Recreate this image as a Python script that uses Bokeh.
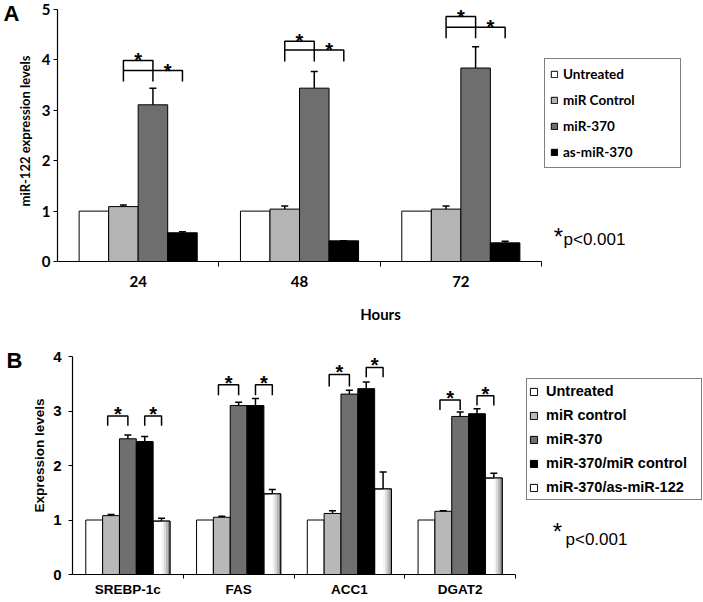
from bokeh.plotting import figure
from bokeh.models import (Range1d, FixedTicker, Legend, LegendItem, Whisker,
                          TeeHead, ColumnDataSource, Label, LinearAxis)
from bokeh.layouts import column
from bokeh.embed import file_html
from bokeh.resources import INLINE
from bokeh.core.properties import value

# ---------------- Panel A data ----------------
hours = ["24", "48", "72"]
a_series = ["Untreated", "miR Control", "miR-370", "as-miR-370"]
a_untreated = [1.0, 1.0, 1.0]
a_untreated_err = [0.0, 0.0, 0.0]
a_mir_control = [1.09, 1.04, 1.04]
a_mir_control_err = [0.03, 0.06, 0.06]
a_mir370 = [3.11, 3.44, 3.84]
a_mir370_err = [0.33, 0.33, 0.42]
a_as_mir370 = [0.57, 0.41, 0.37]
a_as_mir370_err = [0.02, 0.0, 0.03]
a_bracket_top = [3.99, 4.37, 4.86]
a_bracket_mid = [3.79, 4.20, 4.65]
a_bracket_base = [3.57, 3.97, 4.43]

# ---------------- Panel B data ----------------
genes = ["SREBP-1c", "FAS", "ACC1", "DGAT2"]
b_series = ["Untreated", "miR control", "miR-370", "miR-370/miR control", "miR-370/as-miR-122"]
b_untreated = [1.0, 1.0, 1.0, 1.0]
b_untreated_err = [0.0, 0.0, 0.0, 0.0]
b_mir_control = [1.08, 1.05, 1.12, 1.16]
b_mir_control_err = [0.02, 0.02, 0.05, 0.01]
b_mir370 = [2.49, 3.10, 3.31, 2.90]
b_mir370_err = [0.07, 0.06, 0.07, 0.08]
b_mir370_ctrl = [2.44, 3.10, 3.41, 2.95]
b_mir370_ctrl_err = [0.09, 0.13, 0.12, 0.09]
b_mir370_as122 = [0.98, 1.48, 1.57, 1.77]
b_mir370_as122_err = [0.05, 0.08, 0.31, 0.09]
b_bracket1_top = [2.91, 3.48, 3.67, 3.20]
b_bracket1_base = [2.73, 3.29, 3.45, 3.02]
b_bracket2_top = [2.91, 3.48, 3.80, 3.28]
b_bracket2_base = [2.73, 3.29, 3.62, 3.10]

FONT_A = "Lato"
FONT_B = "Liberation Sans"


def style_common(p):
    p.grid.visible = False
    p.outline_line_color = None
    p.background_fill_color = "white"
    p.border_fill_color = "white"
    p.frame_align = False


def add_whisker(p, xs, vals, errs):
    src = ColumnDataSource(dict(base=xs, lower=vals,
                                upper=[v + e for v, e in zip(vals, errs)]))
    w = Whisker(source=src, base="base", lower="lower", upper="upper",
                dimension="height", line_color="black", line_width=1.5,
                upper_head=TeeHead(size=7, line_color="black", line_width=1.5),
                lower_head=None, level="overlay")
    p.add_layout(w)


def add_panel_letter(p, letter, ypos, standoff):
    # panel letter drawn as the only tick label of an outer, invisible left axis
    ax = LinearAxis(ticker=FixedTicker(ticks=[ypos]),
                    major_label_overrides={ypos: letter},
                    axis_line_color=None, major_tick_line_color=None,
                    minor_tick_line_color=None, major_tick_out=0, major_tick_in=0,
                    major_label_standoff=standoff,
                    major_label_text_font=FONT_B, major_label_text_font_style="bold",
                    major_label_text_font_size="22px", major_label_text_color="black")
    p.add_layout(ax, "left")


# =============== Panel A ===============
pA = figure(width=703, height=336, x_range=Range1d(0, 4.004), y_range=Range1d(0, 5.18),
            min_border_left=57, min_border_right=0, min_border_top=0, min_border_bottom=75,
            output_backend="svg", toolbar_location=None)
style_common(pA)

wA = 0.183
centersA = [i + 0.5 for i in range(len(hours))]
colorsA = ["#ffffff", "#b4b4b4", "#6e6e6e", "#000000"]
valsA = [a_untreated, a_mir_control, a_mir370, a_as_mir370]
errsA = [a_untreated_err, a_mir_control_err, a_mir370_err, a_as_mir370_err]
rendA = []
for k in range(4):
    xs = [c + (k - 1.5) * wA for c in centersA]
    r = pA.vbar(x=xs, top=valsA[k], width=wA, bottom=0, fill_color=colorsA[k],
                line_color="black", line_width=1)
    rendA.append(r)
    if k > 0:
        add_whisker(pA, xs, valsA[k], errsA[k])

# significance brackets A
xl = [c - 0.5 * wA for c in centersA]
xd = [c + 0.5 * wA for c in centersA]
xb = [c + 1.5 * wA for c in centersA]
pA.multi_line(xs=[[a, a, b, b] for a, b in zip(xl, xd)],
              ys=[[lo, t, t, lo] for t, lo in zip(a_bracket_top, a_bracket_base)],
              line_color="black", line_width=1.5)
pA.multi_line(xs=[[a, b, b] for a, b in zip(xl, xb)],
              ys=[[m, m, lo] for m, lo in zip(a_bracket_mid, a_bracket_base)],
              line_color="black", line_width=1.5)
pA.text(x=[(a + b) / 2 for a, b in zip(xl, xd)] + [(a + b) / 2 for a, b in zip(xd, xb)],
        y=a_bracket_top + a_bracket_mid, text=["*"] * 6,
        text_font=value(FONT_B), text_font_style="bold", text_font_size="20px",
        text_align="center", text_baseline="alphabetic", y_offset=0, text_color="black")

# axes A
pA.yaxis.ticker = FixedTicker(ticks=[0, 1, 2, 3, 4, 5])
pA.yaxis.bounds = (0, 5)
pA.xaxis.ticker = FixedTicker(ticks=centersA, minor_ticks=[1, 2, 3])
pA.xaxis.bounds = (0, 3)
pA.xaxis.major_label_overrides = {c: h for c, h in zip(centersA, hours)}
for ax in (pA.xaxis[0], pA.yaxis[0]):
    ax.axis_line_color = "black"
    ax.axis_line_width = 1.2
    ax.major_label_text_font = FONT_A
    ax.major_label_text_font_style = "bold"
    ax.major_label_text_font_size = "15px"
    ax.major_label_text_color = "black"
    ax.axis_label_text_font = FONT_A
    ax.axis_label_text_font_style = "bold"
    ax.axis_label_text_color = "black"
pA.yaxis.major_tick_out = 4
pA.yaxis.major_tick_in = 0
pA.yaxis.minor_tick_line_color = None
pA.yaxis.major_tick_line_color = "black"
pA.yaxis.major_label_standoff = 3
pA.yaxis.axis_label = "miR-122 expression levels"
pA.yaxis.axis_label_text_font_size = "13px"
pA.yaxis.axis_label_standoff = 6
pA.xaxis.major_tick_line_color = None
pA.xaxis.major_tick_out = 0
pA.xaxis.major_tick_in = 0
pA.xaxis.minor_tick_out = 5
pA.xaxis.minor_tick_in = 0
pA.xaxis.minor_tick_line_color = "black"
pA.xaxis.major_label_standoff = 9
pA.xaxis.axis_label = "Hours"
pA.xaxis.axis_label_text_font_size = "15px"
pA.xaxis.axis_label_standoff = 15
add_panel_letter(pA, "A", 4.92, -6)

legendA = Legend(items=[LegendItem(label=s, renderers=[r]) for s, r in zip(a_series, rendA)],
                 location=(487, 93), orientation="vertical", padding=5, spacing=6,
                 label_height=20, label_width=112, glyph_width=8, glyph_height=8,
                 label_standoff=5, margin=0, border_line_color="black",
                 border_line_width=1.5, label_text_font=FONT_A,
                 label_text_font_style="bold", label_text_font_size="13.5px",
                 label_text_color="black", background_fill_alpha=1)
pA.add_layout(legendA)

pA.add_layout(Label(x=501, y=12, x_units="screen", y_units="screen", text="*",
                    text_font=FONT_B, text_font_size="24px", text_align="center",
                    text_color="black"))
pA.add_layout(Label(x=506, y=13, x_units="screen", y_units="screen", text="p<0.001",
                    text_font=FONT_B, text_font_size="17px", text_color="black"))

# =============== Panel B ===============
pB = figure(width=703, height=266, x_range=Range1d(0, 5.697), y_range=Range1d(0, 4.367),
            min_border_left=72, min_border_right=0, min_border_top=0, min_border_bottom=28,
            output_backend="svg", toolbar_location=None)
style_common(pB)

wB = 0.152
centersB = [i + 0.5 for i in range(len(genes))]
colorsB = ["#ffffff", "#b8b8b8", "#6f6f6f", "#000000", "#ffffff"]
valsB = [b_untreated, b_mir_control, b_mir370, b_mir370_ctrl, b_mir370_as122]
errsB = [b_untreated_err, b_mir_control_err, b_mir370_err, b_mir370_ctrl_err, b_mir370_as122_err]
rendB = []
for k in range(5):
    xs = [c + (k - 2) * wB for c in centersB]
    r = pB.vbar(x=xs, top=valsB[k], width=wB, bottom=0, fill_color=colorsB[k],
                line_color="black", line_width=1)
    rendB.append(r)
    if k == 4:
        # cylinder-like shading on the right part of the last bar
        shades = ["#f4f4f4", "#dadada", "#b8b8b8", "#8c8c8c"]
        n = 8
        for j, col in enumerate(shades):
            jj = n - len(shades) + j
            sx = [x - wB / 2 + (jj + 0.5) * wB / n for x in xs]
            pB.vbar(x=sx, top=valsB[k], width=wB / n, bottom=0, fill_color=col,
                    line_color=None)
        pB.vbar(x=xs, top=valsB[k], width=wB, bottom=0, fill_color=None,
                line_color="black", line_width=1)
    if k > 0:
        add_whisker(pB, xs, valsB[k], errsB[k])

# significance brackets B
x1a = [c - 1.2 * wB for c in centersB]
x1b = [c for c in centersB]
x2a = [c + wB for c in centersB]
x2b = [c + 2 * wB for c in centersB]
pB.multi_line(xs=[[a, a, b, b] for a, b in zip(x1a, x1b)] + [[a, a, b, b] for a, b in zip(x2a, x2b)],
              ys=[[lo, t, t, lo] for t, lo in zip(b_bracket1_top, b_bracket1_base)] +
                 [[lo, t, t, lo] for t, lo in zip(b_bracket2_top, b_bracket2_base)],
              line_color="black", line_width=1.5)
pB.text(x=[(a + b) / 2 for a, b in zip(x1a, x1b)] + [(a + b) / 2 for a, b in zip(x2a, x2b)],
        y=b_bracket1_top + b_bracket2_top, text=["*"] * 8,
        text_font=value(FONT_B), text_font_style="bold", text_font_size="20px",
        text_align="center", text_baseline="alphabetic", y_offset=-2, text_color="black")

pB.yaxis.ticker = FixedTicker(ticks=[0, 1, 2, 3, 4])
pB.yaxis.bounds = (0, 4)
pB.xaxis.ticker = FixedTicker(ticks=centersB, minor_ticks=[1, 2, 3, 4])
pB.xaxis.bounds = (0, 4)
pB.xaxis.major_label_overrides = {c: g for c, g in zip(centersB, genes)}
for ax in (pB.xaxis[0], pB.yaxis[0]):
    ax.axis_line_color = "black"
    ax.axis_line_width = 1.2
    ax.major_label_text_font = FONT_B
    ax.major_label_text_font_style = "bold"
    ax.major_label_text_color = "black"
    ax.axis_label_text_font = FONT_B
    ax.axis_label_text_font_style = "bold"
    ax.axis_label_text_color = "black"
pB.yaxis.major_label_text_font_size = "15px"
pB.xaxis.major_label_text_font_size = "13.5px"
pB.yaxis.major_tick_out = 4
pB.yaxis.major_tick_in = 0
pB.yaxis.minor_tick_line_color = None
pB.yaxis.major_tick_line_color = "black"
pB.yaxis.major_label_standoff = 7
pB.yaxis.axis_label = "Expression levels"
pB.yaxis.axis_label_text_font_size = "13.5px"
pB.yaxis.axis_label_standoff = 3
pB.xaxis.major_tick_line_color = None
pB.xaxis.major_tick_out = 0
pB.xaxis.major_tick_in = 0
pB.xaxis.minor_tick_out = 4
pB.xaxis.minor_tick_in = 0
pB.xaxis.minor_tick_line_color = "black"
pB.xaxis.major_label_standoff = 3
add_panel_letter(pB, "B", 3.93, 7)

legendB = Legend(items=[LegendItem(label=s, renderers=[r]) for s, r in zip(b_series, rendB)],
                 location=(454, 74), orientation="vertical", padding=2, spacing=4,
                 label_height=20, label_width=153, glyph_width=9, glyph_height=9,
                 label_standoff=8, margin=0, border_line_color="black",
                 border_line_width=1.5, label_text_font=FONT_B,
                 label_text_font_style="bold", label_text_font_size="14.5px",
                 label_text_color="black", background_fill_alpha=1)
pB.add_layout(legendB)

pB.add_layout(Label(x=485, y=30, x_units="screen", y_units="screen", text="*",
                    text_font=FONT_B, text_font_size="24px", text_align="center",
                    text_color="black"))
pB.add_layout(Label(x=493, y=26, x_units="screen", y_units="screen", text="p<0.001",
                    text_font=FONT_B, text_font_size="17px", text_color="black"))

layout = column(pA, pB)
open("out.html", "w").write(file_html(layout, INLINE))
